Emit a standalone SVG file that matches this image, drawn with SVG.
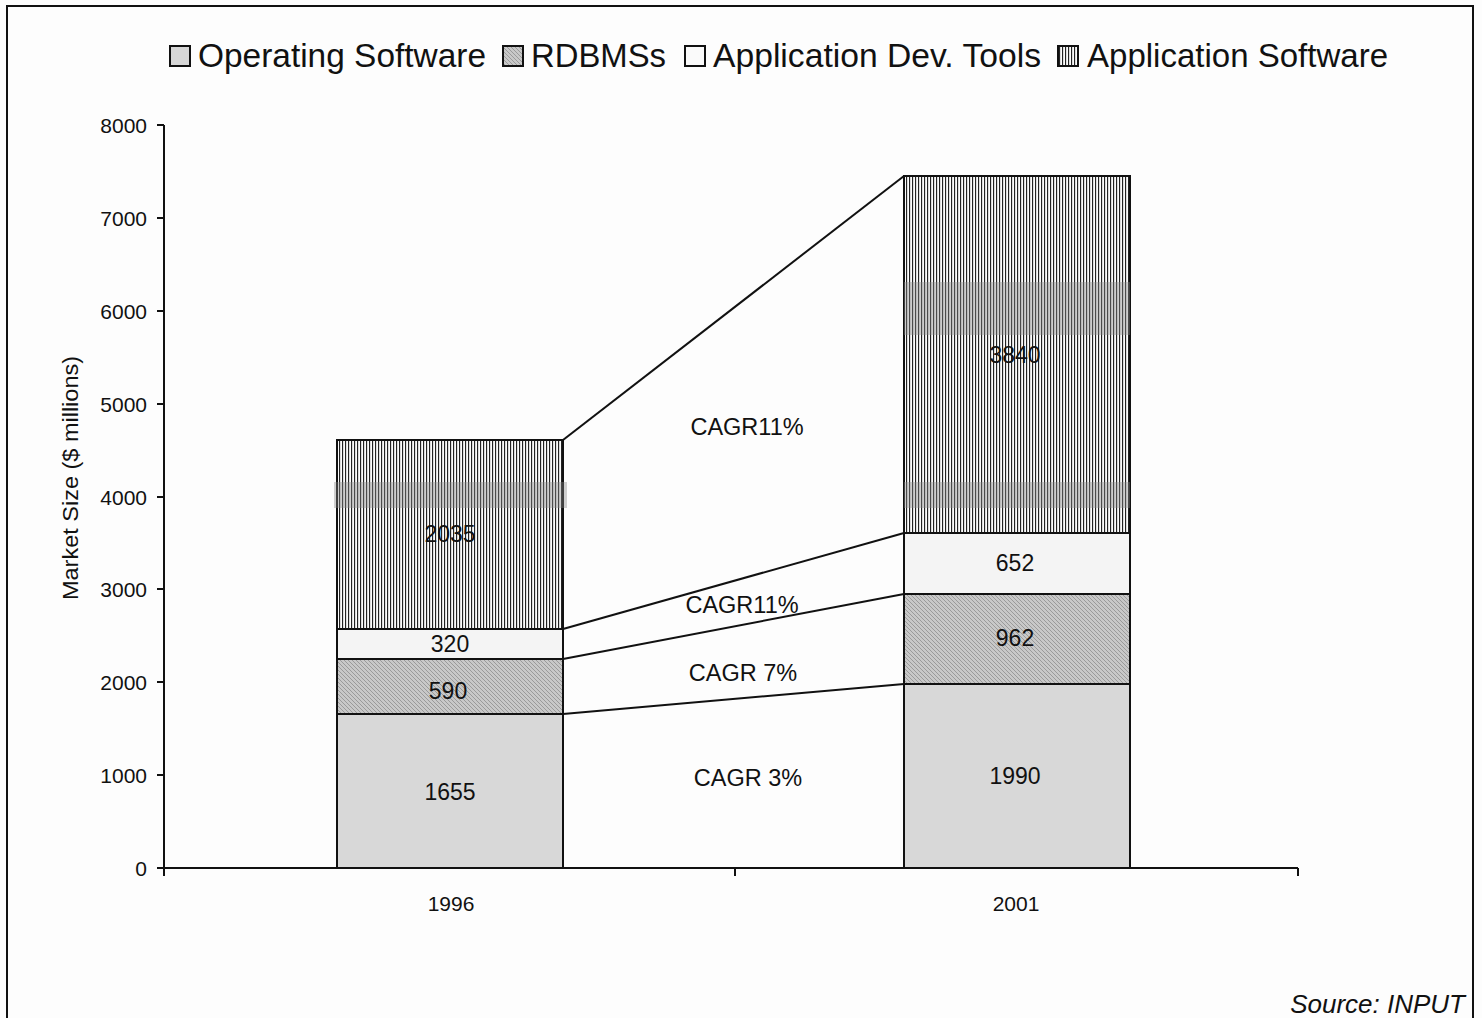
<svg xmlns="http://www.w3.org/2000/svg" width="1482" height="1018" viewBox="0 0 1482 1018">
  <style>
    text { font-family: "Liberation Sans", Arial, sans-serif; fill: #111; }
    .legend { font-size: 33px; }
    .val { font-size: 23px; text-anchor: middle; }
    .tick { font-size: 21px; text-anchor: end; }
    .xlab { font-size: 21px; text-anchor: middle; }
    .cagr { font-size: 23.5px; text-anchor: middle; }
    .seg { stroke: #111; stroke-width: 2; }
    .axis { stroke: #111; stroke-width: 2; fill: none; }
    .conn { stroke: #111; stroke-width: 2; fill: none; }
    .band { fill: #8a8a8a; opacity: 0.4; }
  </style>
  <defs>
    <!-- dense vertical lines: Application Software -->
    <pattern id="vlines" width="3" height="10" patternUnits="userSpaceOnUse">
      <rect width="3" height="10" fill="#fbfbfb"/>
      <rect width="1.15" height="10" fill="#222"/>
    </pattern>
    <!-- diagonal hatch on gray: RDBMSs -->
    <pattern id="hatch" width="4" height="4" patternUnits="userSpaceOnUse">
      <rect width="4" height="4" fill="#c8c8c8"/>
      <path d="M-1,-1 L5,5 M-1,3 L1,5 M3,-1 L5,1" stroke="#8e8e8e" stroke-width="0.8"/>
    </pattern>
  </defs>

  <rect width="1482" height="1018" fill="#fdfdfd"/>
  <!-- outer frame -->
  <path d="M7,1018 L7,6 L1473,6 L1473,1018" fill="none" stroke="#111" stroke-width="2"/>

  <!-- legend -->
  <g id="legend">
    <g id="legend-operating">
      <rect x="170" y="46" width="20" height="20" fill="#d6d6d6" stroke="#111" stroke-width="2"/>
      <text class="legend" x="198" y="67" textLength="288" lengthAdjust="spacingAndGlyphs">Operating Software</text>
    </g>
    <g id="legend-rdbms">
      <rect x="503" y="46" width="20" height="20" fill="url(#hatch)" stroke="#111" stroke-width="2"/>
      <text class="legend" x="531" y="67" textLength="135" lengthAdjust="spacingAndGlyphs">RDBMSs</text>
    </g>
    <g id="legend-devtools">
      <rect x="685" y="46" width="20" height="20" fill="#fafafa" stroke="#111" stroke-width="2"/>
      <text class="legend" x="713" y="67" textLength="328" lengthAdjust="spacingAndGlyphs">Application Dev. Tools</text>
    </g>
    <g id="legend-appsoft">
      <rect x="1058" y="46" width="20" height="20" fill="url(#vlines)" stroke="#111" stroke-width="2"/>
      <text class="legend" x="1087" y="67" textLength="301" lengthAdjust="spacingAndGlyphs">Application Software</text>
    </g>
  </g>

  <!-- axes -->
  <g id="axes">
    <path class="axis" d="M164,125 L164,868 L1298,868"/>
    <path class="axis" d="M157,125 H164 M157,218 H164 M157,311 H164 M157,404 H164 M157,497 H164 M157,589 H164 M157,682 H164 M157,775 H164 M157,868 H164"/>
    <path class="axis" d="M164,868 V876 M735,868 V876 M1298,868 V876"/>
    <text class="tick" x="147" y="133">8000</text>
    <text class="tick" x="147" y="226">7000</text>
    <text class="tick" x="147" y="319">6000</text>
    <text class="tick" x="147" y="412">5000</text>
    <text class="tick" x="147" y="505">4000</text>
    <text class="tick" x="147" y="597">3000</text>
    <text class="tick" x="147" y="690">2000</text>
    <text class="tick" x="147" y="783">1000</text>
    <text class="tick" x="147" y="876">0</text>
    <text class="xlab" x="451" y="911">1996</text>
    <text class="xlab" x="1016" y="911">2001</text>
    <text font-size="22" text-anchor="middle" transform="translate(78,478) rotate(-90)" textLength="244" lengthAdjust="spacingAndGlyphs">Market Size ($ millions)</text>
  </g>

  <!-- connectors between the two stacks -->
  <g id="connectors">
    <line class="conn" x1="563" y1="440" x2="904" y2="176"/>
    <line class="conn" x1="563" y1="629" x2="904" y2="533"/>
    <line class="conn" x1="563" y1="659" x2="904" y2="594"/>
    <line class="conn" x1="563" y1="714" x2="904" y2="684"/>
  </g>

  <!-- 1996 stack -->
  <g id="bar-1996">
    <rect class="seg" x="337" y="714" width="226" height="154" fill="#d8d8d8"/>
    <rect class="seg" x="337" y="659" width="226" height="55" fill="url(#hatch)"/>
    <rect class="seg" x="337" y="629" width="226" height="30" fill="#f4f4f4"/>
    <rect class="seg" x="337" y="440" width="226" height="189" fill="url(#vlines)"/>
    <rect class="band" x="334" y="482" width="233" height="26"/>
    <text class="val" x="450" y="800">1655</text>
    <text class="val" x="448" y="699">590</text>
    <text class="val" x="450" y="652">320</text>
    <text class="val" x="450" y="542">2035</text>
  </g>

  <!-- 2001 stack -->
  <g id="bar-2001">
    <rect class="seg" x="904" y="684" width="226" height="184" fill="#d8d8d8"/>
    <rect class="seg" x="904" y="594" width="226" height="90" fill="url(#hatch)"/>
    <rect class="seg" x="904" y="533" width="226" height="61" fill="#f4f4f4"/>
    <rect class="seg" x="904" y="176" width="226" height="357" fill="url(#vlines)"/>
    <rect class="band" x="904" y="282" width="226" height="53"/>
    <rect class="band" x="904" y="482" width="226" height="26"/>
    <text class="val" x="1015" y="363">3840</text>
    <text class="val" x="1015" y="571">652</text>
    <text class="val" x="1015" y="646">962</text>
    <text class="val" x="1015" y="784">1990</text>
  </g>

  <!-- growth rates -->
  <g id="cagr-labels">
    <text class="cagr" x="747" y="435">CAGR11%</text>
    <text class="cagr" x="742" y="613">CAGR11%</text>
    <text class="cagr" x="743" y="681">CAGR 7%</text>
    <text class="cagr" x="748" y="786">CAGR 3%</text>
  </g>

  <text x="1465" y="1013" font-size="26" font-style="italic" text-anchor="end">Source: INPUT</text>
</svg>
